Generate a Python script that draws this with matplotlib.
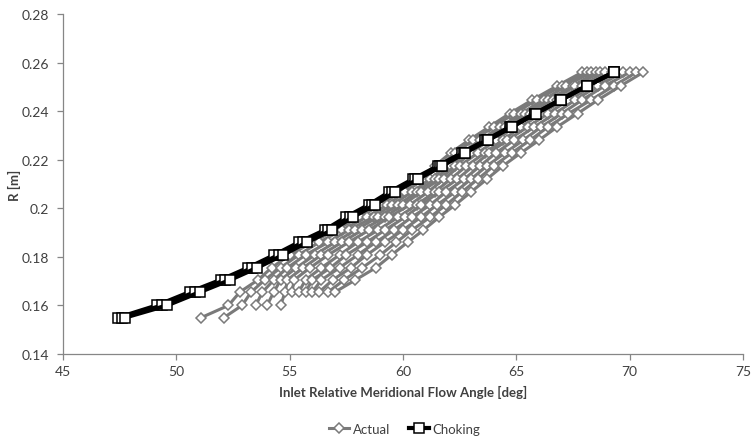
import numpy as np
import matplotlib
matplotlib.use("Agg")
import matplotlib.pyplot as plt
from matplotlib.lines import Line2D

plt.rcParams['font.family'] = ['Lato', 'DejaVu Sans']

# Radius levels (m)
radius = [0.155, 0.160, 0.1655, 0.1705, 0.1755, 0.1808, 0.186, 0.191, 0.1964, 0.2014,
          0.2067, 0.212, 0.2174, 0.2228, 0.228, 0.2335, 0.239, 0.2446, 0.2504, 0.256]

nan = np.nan
# Actual inlet relative flow angle lines (deg), one list per line, nan where absent
actual_1 = [51.1, 52.3, 52.8, 53.6, 54.2, 55.0, 56.0, 57.0, 58.1, 59.0, 59.9, 60.7, 61.4, 62.1, 62.9, 63.8, 64.7, 65.7, 66.8, 67.9]
actual_2 = [52.1, 52.9, 53.3, 53.9, 54.6, 55.4, 56.3, 57.3, 58.4, 59.3, 60.1, 60.9, 61.6, 62.3, 63.1, 64.0, 64.9, 65.9, 67.0, 68.1]
actual_3 = [nan, 53.5, 53.8, 54.3, 54.9, 55.7, 56.7, 57.6, 58.7, 59.5, 60.4, 61.2, 61.9, 62.6, 63.4, 64.3, 65.2, 66.2, 67.2, 68.3]
actual_4 = [nan, 54.0, 54.3, 54.6, 55.3, 56.1, 57.0, 57.9, 58.9, 59.8, 60.6, 61.4, 62.1, 62.8, 63.6, 64.5, 65.4, 66.4, 67.5, 68.5]
actual_5 = [nan, 54.6, 54.8, 54.9, 55.6, 56.4, 57.3, 58.2, 59.2, 60.0, 60.8, 61.6, 62.3, 63.0, 63.8, 64.7, 65.6, 66.6, 67.6, 68.7]
actual_6 = [nan, nan, 55.1, 55.2, 55.9, 56.7, 57.6, 58.5, 59.4, 60.3, 61.1, 61.8, 62.5, 63.3, 64.1, 64.9, 65.8, 66.8, 67.9, 68.9]
actual_7 = [nan, nan, 55.4, 55.7, 56.4, 57.2, 58.0, 58.9, 59.8, 60.6, 61.4, 62.1, 62.8, 63.6, 64.4, 65.2, 66.1, 67.1, 68.1, 69.2]
actual_8 = [nan, nan, 55.7, 56.0, 56.8, 57.5, 58.4, 59.2, 60.1, 60.8, 61.6, 62.4, 63.1, 63.8, 64.6, 65.5, 66.4, 67.3, 68.4, 69.4]
actual_9 = [nan, nan, 56.0, 56.4, 57.2, 58.0, 58.8, 59.6, 60.4, 61.2, 61.9, 62.7, 63.4, 64.1, 64.9, 65.8, 66.7, 67.6, 68.6, 69.7]
actual_10 = [nan, nan, 56.3, 56.9, 57.7, 58.4, 59.2, 60.0, 60.8, 61.5, 62.3, 63.0, 63.7, 64.5, 65.3, 66.1, 67.0, 67.9, 68.9, 70.0]
actual_11 = [nan, nan, 56.7, 57.4, 58.2, 59.0, 59.7, 60.4, 61.2, 61.9, 62.6, 63.3, 64.0, 64.8, 65.6, 66.4, 67.3, 68.3, 69.3, 70.3]
actual_12 = [nan, nan, 57.0, 57.9, 58.8, 59.5, 60.2, 60.9, 61.6, 62.3, 63.0, 63.7, 64.4, 65.2, 66.0, 66.8, 67.7, 68.6, 69.6, 70.6]
actual_lines = [actual_1, actual_2, actual_3, actual_4, actual_5, actual_6,
                actual_7, actual_8, actual_9, actual_10, actual_11, actual_12]

# Choking flow angle lines (deg)
choking_1 = [47.44, 49.14, 50.59, 51.95, 53.16, 54.33, 55.41, 56.54, 57.49, 58.48, 59.40, 60.44, 61.54, 62.59, 63.63, 64.72, 65.81, 66.93, 68.10, 69.31]
choking_2 = [47.59, 49.37, 50.82, 52.16, 53.36, 54.52, 55.59, 56.71, 57.64, 58.62, 59.53, 60.55, 61.63, 62.67, 63.69, 64.77, 65.84, 66.95, 68.11, 69.31]
choking_3 = [47.74, 49.59, 51.04, 52.37, 53.56, 54.71, 55.76, 56.87, 57.79, 58.76, 59.65, 60.66, 61.72, 62.74, 63.75, 64.81, 65.87, 66.97, 68.12, 69.31]
choking_lines = [choking_1, choking_2, choking_3]

x_ticks = [45, 50, 55, 60, 65, 70, 75]
y_ticks = [0.14, 0.16, 0.18, 0.20, 0.22, 0.24, 0.26, 0.28]
y_tick_labels = ['0.14', '0.16', '0.18', '0.2', '0.22', '0.24', '0.26', '0.28']

gray = '#7a7a7a'
axis_col = '#868686'
text_col = '#404040'

fig = plt.figure(figsize=(7.56, 4.39), dpi=100)
ax = fig.add_axes([63/756, 1 - 355/439, 680/756, 340/439])

for xs in actual_lines:
    ax.plot(xs, radius, color=gray, lw=2.2, marker='D', ms=4.8,
            mfc='white', mec=gray, mew=1.1, zorder=2)
for xs in choking_lines:
    ax.plot(xs, radius, color='black', lw=3.0, marker='s', ms=7.0,
            mfc='white', mec='black', mew=1.1, zorder=3)

ax.set_xlim(45, 75)
ax.set_ylim(0.14, 0.28)
ax.set_xticks(x_ticks)
ax.set_xticklabels([str(v) for v in x_ticks])
ax.set_yticks(y_ticks)
ax.set_yticklabels(y_tick_labels)

for s in ['top', 'right']:
    ax.spines[s].set_visible(False)
for s in ['left', 'bottom']:
    ax.spines[s].set_color(axis_col)
    ax.spines[s].set_linewidth(0.9)
ax.tick_params(axis='both', direction='out', length=4, width=0.9, color=axis_col,
               labelsize=10, labelcolor=text_col)
ax.tick_params(axis='x', pad=4)
ax.tick_params(axis='y', pad=6)

ax.set_xlabel('Inlet Relative Meridional Flow Angle [deg]', fontsize=9.5,
              fontweight='bold', color=text_col, labelpad=6)
ax.set_ylabel('R [m]', fontsize=9.5, fontweight='bold', color=text_col)
ax.yaxis.set_label_coords(-0.062, 0.5)

handles = [
    Line2D([0], [0], color=gray, lw=2.2, marker='D', ms=4.8, mfc='white', mec=gray, mew=1.1),
    Line2D([0], [0], color='black', lw=3.0, marker='s', ms=7.0, mfc='white', mec='black', mew=1.1),
]
leg = fig.legend(handles, ['Actual', 'Choking'], loc='center',
                 bbox_to_anchor=(405/756, 1 - 430/439), ncol=2, frameon=False,
                 fontsize=9.5, handlelength=1.5, handletextpad=0.3, columnspacing=1.4)
for t in leg.get_texts():
    t.set_color(text_col)

fig.savefig('out.png', dpi=100)
